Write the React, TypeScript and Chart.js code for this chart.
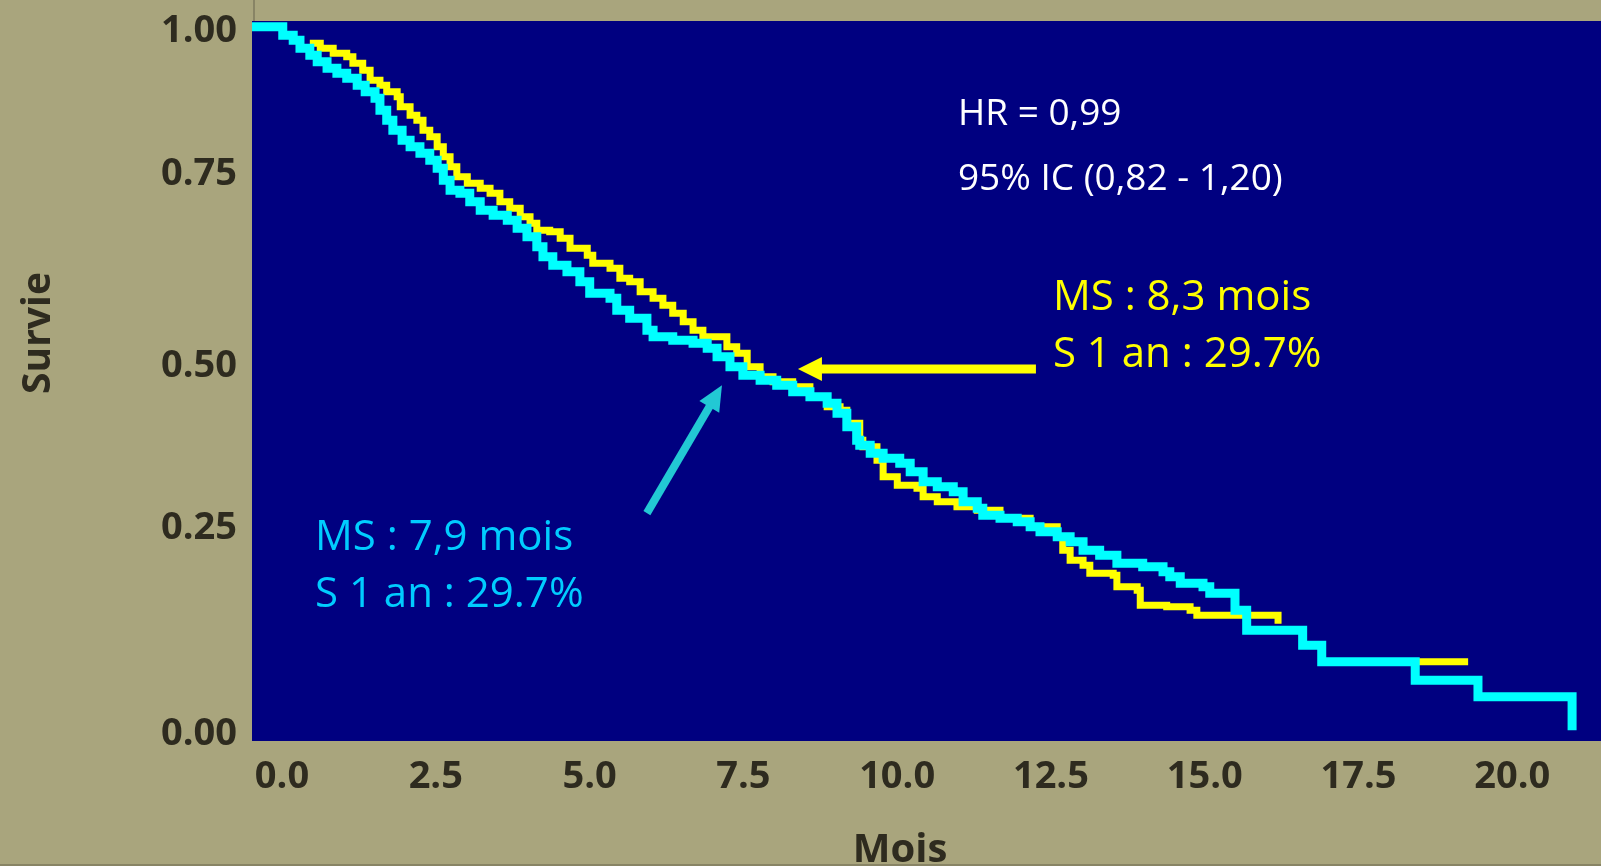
import React, { useEffect, useRef } from "react";
import { Chart, registerables } from "chart.js";

Chart.register(...registerables);

// ---- Data (months on the plotted time axis, survival probability) ----
const cyanTime = [0, 0.5, 0.67, 0.78, 0.94, 1.06, 1.22, 1.38, 1.54, 1.71, 1.84, 2.0, 2.08, 2.19, 2.29, 2.44, 2.57, 2.73, 2.89, 3.01, 3.11, 3.22, 3.38, 3.54, 3.71, 3.92, 4.15, 4.31, 4.47, 4.63, 4.73, 4.89, 5.12, 5.33, 5.49, 5.82, 5.93, 6.14, 6.42, 6.52, 6.84, 7.17, 7.4, 7.56, 7.77, 7.98, 8.26, 8.53, 8.79, 9.07, 9.35, 9.51, 9.67, 9.83, 9.88, 10.05, 10.26, 10.53, 10.7, 10.91, 11.14, 11.4, 11.56, 11.79, 11.88, 12.16, 12.44, 12.65, 12.81, 13.09, 13.3, 13.51, 13.78, 14.06, 14.48, 14.81, 14.92, 15.09, 15.46, 15.57, 15.98, 16.17, 17.08, 17.39, 18.91, 19.93, 21.46];
const cyanSurv = [1.0, 0.988, 0.981, 0.97, 0.96, 0.951, 0.942, 0.935, 0.928, 0.918, 0.909, 0.9, 0.883, 0.869, 0.855, 0.841, 0.832, 0.823, 0.813, 0.802, 0.785, 0.771, 0.767, 0.755, 0.743, 0.736, 0.729, 0.718, 0.706, 0.692, 0.678, 0.666, 0.657, 0.643, 0.627, 0.62, 0.603, 0.592, 0.575, 0.566, 0.561, 0.557, 0.55, 0.538, 0.524, 0.512, 0.505, 0.498, 0.489, 0.482, 0.473, 0.459, 0.44, 0.421, 0.414, 0.403, 0.396, 0.389, 0.377, 0.363, 0.356, 0.349, 0.335, 0.326, 0.316, 0.312, 0.307, 0.3, 0.293, 0.286, 0.279, 0.267, 0.26, 0.249, 0.244, 0.237, 0.23, 0.221, 0.216, 0.207, 0.183, 0.155, 0.134, 0.111, 0.085, 0.062, 0.015];

// null marks the break in the yellow trace visible in the source figure
const yellowTime = [0.94, 1.11, 1.32, 1.54, 1.64, 1.8, 1.92, 2.08, 2.19, 2.36, 2.41, 2.57, 2.68, 2.78, 2.89, 3.01, 3.11, 3.22, 3.33, 3.5, 3.71, 3.87, 4.03, 4.19, 4.36, 4.52, 4.63, 4.84, 5.01, 5.17, 5.45, 5.54, 5.82, 5.98, 6.14, 6.31, 6.52, 6.68, 6.84, 7.01, 7.17, 7.33, 7.72, 7.88, 8.05, 8.26, 8.47, 8.79, 9.07, 9.35, 9.56, 9.67, 9.88, 9.93, 10.16, 10.26, 10.49, 10.81, 10.91, 11.14, 11.46, 11.79, 12.16, 12.65, 13.09, 13.18, 13.3, 13.51, 13.62, 14.0, 14.06, 14.39, 14.44, 14.87, 15.25, 15.36, 16.68, 17.0, 17.39, 19.77];
const yellowSurv = [0.977, 0.97, 0.963, 0.958, 0.949, 0.939, 0.925, 0.918, 0.909, 0.902, 0.888, 0.876, 0.869, 0.855, 0.846, 0.832, 0.818, 0.804, 0.79, 0.781, 0.774, 0.767, 0.755, 0.746, 0.734, 0.725, 0.715, 0.713, 0.704, 0.69, 0.68, 0.669, 0.662, 0.648, 0.643, 0.629, 0.62, 0.61, 0.599, 0.587, 0.575, 0.566, 0.552, 0.543, 0.524, 0.51, 0.503, 0.496, 0.482, 0.468, 0.463, 0.445, 0.421, 0.412, 0.393, 0.37, 0.358, 0.354, 0.342, 0.335, 0.328, 0.323, 0.312, 0.3, 0.286, 0.267, 0.253, 0.246, 0.235, 0.232, 0.216, 0.211, 0.19, 0.188, 0.183, 0.176, 0.164, null, 0.111, 0.111];

// ---- Axis ticks ----
const xTickValues = [0, 2.5, 5, 7.5, 10, 12.5, 15, 17.5, 20];
const yTickValues = [0.015, 0.303, 0.53, 0.799, 0.999];
const yTickLabels = ["0.00", "0.25", "0.50", "0.75", "1.00"];

// ---- Annotations (anchored in data coordinates) ----
const notes = [
  { text: "HR = 0,99", t: 11.476, v: 0.8624, color: "#ffffff", size: 37 },
  { text: "95% IC (0,82 - 1,20)", t: 11.476, v: 0.7714, color: "#ffffff", size: 37 },
  { text: "MS : 8,3 mois", t: 13.02, v: 0.6034, color: "#ffff00", size: 42 },
  { text: "S 1 an : 29.7%", t: 13.02, v: 0.5236, color: "#ffff00", size: 42 },
  { text: "MS : 7,9 mois", t: 1.024, v: 0.2674, color: "#00ccff", size: 42 },
  { text: "S 1 an : 29.7%", t: 1.024, v: 0.1876, color: "#00ccff", size: 42 },
];
const arrows = [
  { from: [12.744, 0.5208], to: [8.875, 0.5208], color: "#ffff00", width: 9, headLen: 24, headW: 24 },
  { from: [6.42, 0.319], to: [7.64, 0.498], color: "#22c8d4", width: 8, headLen: 25, headW: 23 },
];

const KHAKI = "#a9a57d";
const NAVY = "#000080";
const DARK = "#2e2b1f";
const EDGE = "#7d7a5e";
const FONT = "'Open Sans', 'Noto Sans', sans-serif";

const decor = {
  id: "decor",
  beforeDraw(chart: any) {
    const { ctx, chartArea: a } = chart;
    ctx.save();
    ctx.fillStyle = KHAKI;
    ctx.fillRect(0, 0, chart.width, chart.height);
    ctx.fillStyle = NAVY;
    ctx.fillRect(a.left, a.top, a.right - a.left, a.bottom - a.top);
    ctx.strokeStyle = EDGE;
    ctx.lineWidth = 1.5;
    ctx.beginPath();
    ctx.moveTo(a.left + 2, 0);
    ctx.lineTo(a.left + 2, a.top);
    ctx.moveTo(0, chart.height - 1);
    ctx.lineTo(chart.width, chart.height - 1);
    ctx.stroke();
    ctx.restore();
  },
  afterDatasetsDraw(chart: any) {
    const { ctx } = chart;
    const xs = chart.scales.x;
    const ys = chart.scales.y;
    ctx.save();
    for (const ar of arrows) {
      const x1 = xs.getPixelForValue(ar.from[0]);
      const y1 = ys.getPixelForValue(ar.from[1]);
      const x2 = xs.getPixelForValue(ar.to[0]);
      const y2 = ys.getPixelForValue(ar.to[1]);
      const dx = x2 - x1, dy = y2 - y1;
      const len = Math.hypot(dx, dy);
      const ux = dx / len, uy = dy / len;
      const bx = x2 - ux * ar.headLen, by = y2 - uy * ar.headLen;
      ctx.strokeStyle = ar.color;
      ctx.fillStyle = ar.color;
      ctx.lineWidth = ar.width;
      ctx.lineCap = "butt";
      ctx.beginPath();
      ctx.moveTo(x1, y1);
      ctx.lineTo(bx + ux, by + uy);
      ctx.stroke();
      ctx.beginPath();
      ctx.moveTo(x2, y2);
      ctx.lineTo(bx - uy * ar.headW / 2, by + ux * ar.headW / 2);
      ctx.lineTo(bx + uy * ar.headW / 2, by - ux * ar.headW / 2);
      ctx.closePath();
      ctx.fill();
    }
    ctx.textAlign = "left";
    ctx.textBaseline = "alphabetic";
    for (const n of notes) {
      ctx.font = `${n.size}px ${FONT}`;
      ctx.fillStyle = n.color;
      ctx.fillText(n.text, xs.getPixelForValue(n.t), ys.getPixelForValue(n.v));
    }
    ctx.restore();
  },
  afterDraw(chart: any) {
    const { ctx } = chart;
    ctx.save();
    ctx.fillStyle = DARK;
    ctx.font = `bold 40px ${FONT}`;
    ctx.textAlign = "center";
    ctx.textBaseline = "alphabetic";
    ctx.fillText("Mois", 900, 862);
    ctx.translate(50, 333);
    ctx.rotate(-Math.PI / 2);
    ctx.font = `bold 39px ${FONT}`;
    ctx.fillText("Survie", 0, 0);
    ctx.restore();
  },
};

export default function App() {
  const ref = useRef<HTMLCanvasElement | null>(null);

  useEffect(() => {
    if (!ref.current) return;
    const chart = new Chart(ref.current, {
      type: "line",
      data: {
        datasets: [
          {
            label: "Bras cyan",
            data: cyanTime.map((t, i) => ({ x: t, y: cyanSurv[i] })),
            borderColor: "#00ffff",
            borderWidth: 9,
            stepped: "before",
            pointRadius: 0,
            fill: false,
          },
          {
            label: "Bras jaune",
            data: yellowTime.map((t, i) => ({ x: t, y: yellowSurv[i] })),
            borderColor: "#ffff00",
            borderWidth: 7,
            stepped: "before",
            pointRadius: 0,
            fill: false,
            spanGaps: false,
          },
        ],
      },
      plugins: [decor],
      options: {
        responsive: false,
        animation: false,
        events: [],
        layout: { padding: { top: 21, left: 0, right: 0, bottom: 0 } },
        plugins: { legend: { display: false }, tooltip: { enabled: false } },
        scales: {
          x: {
            type: "linear",
            min: 0,
            max: 21.93,
            grid: { display: false, drawTicks: false },
            border: { display: false },
            afterBuildTicks: (scale: any) => {
              scale.ticks = xTickValues.map((v) => ({ value: v }));
            },
            afterFit: (scale: any) => {
              scale.height = 125;
              scale.paddingLeft = 0;
              scale.paddingRight = 0;
            },
            ticks: {
              autoSkip: false,
              maxRotation: 0,
              padding: 13,
              labelOffset: 30,
              color: DARK,
              font: { family: FONT, size: 38, weight: "bold" },
              callback: (v: any) => Number(v).toFixed(1),
            },
          },
          y: {
            type: "linear",
            min: 0,
            max: 1.008,
            grid: { display: false, drawTicks: false },
            border: { display: false },
            afterBuildTicks: (scale: any) => {
              scale.ticks = yTickValues.map((v) => ({ value: v }));
            },
            afterFit: (scale: any) => {
              scale.width = 252;
              scale.paddingTop = 0;
              scale.paddingBottom = 0;
            },
            ticks: {
              padding: 15,
              labelOffset: 4,
              color: DARK,
              font: { family: FONT, size: 38, weight: "bold" },
              callback: (_v: any, i: number) => yTickLabels[i],
            },
          },
        },
      },
    });
    return () => chart.destroy();
  }, []);

  return (
    <div style={{ position: "fixed", left: 0, top: 0, width: 1601, height: 866, background: KHAKI }}>
      <canvas ref={ref} width={1601} height={866} style={{ display: "block" }} />
    </div>
  );
}
